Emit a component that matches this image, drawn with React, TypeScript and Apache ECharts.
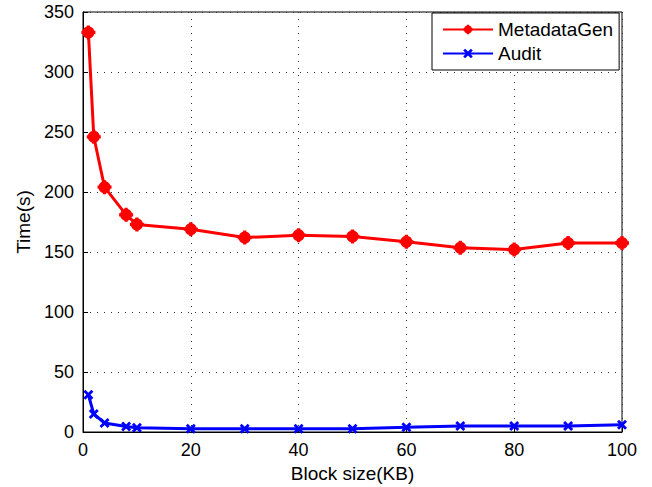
import React, { useEffect, useRef } from "react";
import * as echarts from "echarts";

const blockSizes = [1, 2, 4, 8, 10, 20, 30, 40, 50, 60, 70, 80, 90, 100];
const metadataGen = [333, 246, 204, 181, 173, 169, 162, 164, 163, 158.5, 153.5, 152, 157.5, 157.5];
const audit = [31, 15, 7.5, 4.5, 3.5, 2.8, 2.7, 2.7, 2.7, 4, 5, 5, 5, 6];
const xTicks = [0, 20, 40, 60, 80, 100];
const yTicks = [0, 50, 100, 150, 200, 250, 300, 350];

const FONT = "Liberation Sans, Arial, sans-serif";
const blobSymbol =
  "path://M4.6,0L7.4,0L7.4,1.0L8.6,1.5L9.7,2.3L10.5,3.4L11,4.6L12,4.6L12,7.4L11,7.4L10.5,8.6L9.7,9.7L8.6,10.5L7.4,11L7.4,12L4.6,12L4.6,11L3.4,10.5L2.3,9.7L1.5,8.6L1,7.4L0,7.4L0,4.6L1,4.6L1.5,3.4L2.3,2.3L3.4,1.5L4.6,1Z";
const xSymbol = "path://M0,2L2,0L5,3L8,0L10,2L7,5L10,8L8,10L5,7L2,10L0,8L3,5Z";

export default function App() {
  const ref = useRef<HTMLDivElement>(null);
  useEffect(() => {
    if (!ref.current) return;
    const chart = echarts.init(ref.current, undefined, { renderer: "svg" });
    const pair = (ys: number[]) => blockSizes.map((x, i) => [x, ys[i]]);
    chart.setOption({
      animation: false,
      backgroundColor: "#fff",
      textStyle: { fontFamily: FONT },
      grid: {
        left: 83,
        right: 30,
        top: 12,
        bottom: 55,
        outerBoundsMode: "none",
        containLabel: false,
        show: true,
        borderColor: "#000",
        borderWidth: 1,
      },
      legend: {
        orient: "vertical",
        left: 432,
        top: 13,
        backgroundColor: "#fff",
        borderColor: "#000",
        borderWidth: 1,
        borderRadius: 0,
        padding: [7, 6, 7, 10],
        itemGap: 5,
        itemWidth: 50,
        itemHeight: 12,
        textStyle: { fontSize: 19, color: "#000", fontFamily: FONT },
        data: ["MetadataGen", "Audit"],
      },
      xAxis: {
        type: "value",
        min: 0,
        max: 100,
        interval: 20,
        name: "Block size(KB)",
        nameLocation: "middle",
        nameGap: 27,
        nameTextStyle: { fontSize: 19, color: "#000", fontFamily: FONT },
        axisLine: { show: true, lineStyle: { color: "#000", width: 1 } },
        axisTick: { show: true, inside: true, length: 5, lineStyle: { color: "#000" } },
        axisLabel: {
          fontSize: 18,
          color: "#000",
          margin: 9,
          fontFamily: FONT,
          formatter: (v: number) => (xTicks.includes(v) ? String(v) : ""),
        },
        splitLine: { show: true, lineStyle: { color: "#333", type: [1, 6], width: 1 } },
      },
      yAxis: {
        type: "value",
        min: 0,
        max: 350,
        interval: 50,
        name: "Time(s)",
        nameLocation: "middle",
        nameGap: 48,
        nameTextStyle: { fontSize: 19, color: "#000", fontFamily: FONT },
        axisLine: { show: true, lineStyle: { color: "#000", width: 1 } },
        axisTick: { show: true, inside: true, length: 5, lineStyle: { color: "#000" } },
        axisLabel: {
          fontSize: 18,
          color: "#000",
          margin: 9,
          fontFamily: FONT,
          formatter: (v: number) => (yTicks.includes(v) ? String(v) : ""),
        },
        splitLine: { show: true, lineStyle: { color: "#333", type: [1, 6], width: 1 } },
      },
      series: [
        {
          name: "MetadataGen",
          type: "line",
          data: pair(metadataGen),
          symbol: blobSymbol,
          symbolSize: 14,
          color: "#ff0000",
          lineStyle: { width: 3, color: "#ff0000" },
          itemStyle: { color: "#ff0000" },
          z: 3,
        },
        {
          name: "Audit",
          type: "line",
          data: pair(audit),
          symbol: xSymbol,
          symbolSize: 10,
          color: "#0000ff",
          lineStyle: { width: 3, color: "#0000ff" },
          itemStyle: { color: "#0000ff" },
          z: 3,
        },
      ],
    });
    return () => chart.dispose();
  }, []);
  return <div ref={ref} style={{ width: 652, height: 487, position: "absolute", left: 0, top: 0 }} />;
}
